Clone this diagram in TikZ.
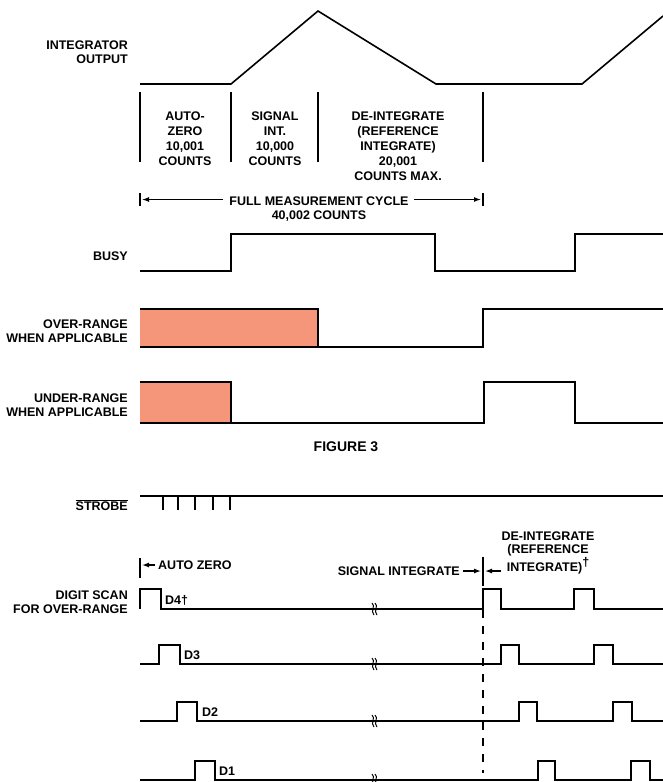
\documentclass[tikz,border=0pt]{standalone}
\usepackage{fontspec}
\setmainfont{Liberation Sans}
\usetikzlibrary{arrows.meta}
\definecolor{rangefill}{RGB}{245,150,122}

\tikzset{
  sig/.style={line width=1.6pt},
  bar/.style={line width=2.3pt},
  arr/.style={line width=1.3pt, -{Latex[length=7pt,width=5pt]}},
  lbl/.style={font=\bfseries\fontsize{12.5}{14}\selectfont, align=right, anchor=east, inner sep=0pt},
  colt/.style={font=\bfseries\fontsize{12.5}{15}\selectfont, align=center, inner sep=0pt},
  txt/.style={font=\bfseries\fontsize{12.5}{12.5}\selectfont, inner sep=0pt},
}

\begin{document}
\begin{tikzpicture}[x=1pt, y=-1pt]
  \useasboundingbox (0,0) rectangle (663,782);

  % integrator output and phases
  \node[lbl] (intlbl) at (128,52.5) {INTEGRATOR\\OUTPUT};
  \draw[sig] (140,84) -- (231,84) -- (318,11) -- (436,84) -- (582,84) -- (663,16);
  \foreach \x in {140,231,318,483}
    \draw[bar] (\x,92) -- (\x,162);
  \node[colt] (az) at (185,139) {AUTO-\\ZERO\\10,001\\COUNTS};
  \node[colt] (si) at (275,139) {SIGNAL\\INT.\\10,000\\COUNTS};
  \node[colt] (di) at (398,146.5) {DE-INTEGRATE\\(REFERENCE\\INTEGRATE)\\20,001\\COUNTS MAX.};

  % full cycle
  \node[txt] (fmc) at (319,201) {FULL MEASUREMENT CYCLE};
  \node[txt] (fmcn) at (319,216) {40,002 COUNTS};
  \coordinate (fmcL) at (142,199.5);
  \coordinate (fmcR) at (481,199.5);
  \draw[bar] (140,193) -- (140,206);
  \draw[bar] (483,193) -- (483,206);
  \draw[arr] ([xshift=-6pt]fmc.west|-fmcL) -- (fmcL);
  \draw[arr] ([xshift=5pt]fmc.east|-fmcR) -- (fmcR);

  % busy
  \node[lbl] (busy) at (128,256) {BUSY};
  \draw[sig] (140,271) -- (231,271) -- (231,234) -- (435,234) -- (435,271)
    -- (575,271) -- (575,234) -- (663,234);

  % over-range
  \node[lbl] (over) at (128,331.5) {OVER-RANGE\\WHEN APPLICABLE};
  \fill[rangefill] (140,309) rectangle (318,347);
  \draw[sig] (140,309) -- (318,309) -- (318,347);
  \draw[sig] (140,347) -- (483,347) -- (483,309) -- (663,309);

  % under-range
  \node[lbl] (under) at (128,405) {UNDER-RANGE\\WHEN APPLICABLE};
  \fill[rangefill] (140,382) rectangle (231,423);
  \draw[sig] (140,382) -- (231,382) -- (231,423);
  \draw[sig] (140,423) -- (484,423) -- (484,382) -- (575,382) -- (575,423) -- (663,423);

  \node[txt, font=\bfseries\fontsize{14}{14}\selectfont] (fig) at (346,447) {FIGURE 3};

  % strobe
  \node[lbl] (strobe) at (128,505) {$\overline{\hbox{STROBE}}$};
  \draw[sig] (140,496) -- (663,496);
  \foreach \x in {163,178,195,213,230}
    \draw[line width=2.8pt] (\x,496) -- (\x,510);

  % digit scan
  \node[lbl] (scan) at (128,602.5) {DIGIT SCAN\\FOR OVER-RANGE};
  \node[txt, anchor=west] (azb) at (158,565) {AUTO ZERO};
  \coordinate (azL) at (142,565);
  \draw[line width=1.3pt] (140,558) -- (140,578);
  \draw[arr] ([xshift=-3pt]azb.west) -- (azL);
  \node[txt, anchor=east] (sib) at (460,571) {SIGNAL INTEGRATE};
  \coordinate (siR) at (481,571);
  \draw[arr] ([xshift=3pt]sib.east) -- (siR);
  \node[txt, align=center] (dib) at (548,553) {DE-INTEGRATE\\(REFERENCE\\INTEGRATE)\raisebox{5pt}{†}};
  \coordinate (diL) at (485,571);
  \draw[arr] (501,571) -- (diL);
  \draw[line width=1.3pt] (483,557) -- (483,578);
  \draw[sig, dashed, dash pattern=on 8pt off 8pt] (483,578) -- (483,773);

  \draw[sig] (140,609) -- (140,589) -- (161,589) -- (161,609) -- (483,609) -- (483,589)
    -- (501,589) -- (501,609) -- (574,609) -- (574,589) -- (594,589) -- (594,609) -- (663,609);
  \draw[sig] (140,664) -- (159,664) -- (159,645) -- (180,645) -- (180,664) -- (501,664)
    -- (501,645) -- (519,645) -- (519,664) -- (594,664) -- (594,645) -- (613,645) -- (613,664) -- (663,664);
  \draw[sig] (140,721) -- (177,721) -- (177,702) -- (197,702) -- (197,721) -- (519,721)
    -- (519,702) -- (537,702) -- (537,721) -- (613,721) -- (613,702) -- (632,702) -- (632,721) -- (663,721);
  \draw[sig] (140,780) -- (195,780) -- (195,761) -- (215,761) -- (215,780) -- (538,780)
    -- (538,761) -- (555,761) -- (555,780) -- (631,780) -- (631,761) -- (650,761) -- (650,780) -- (663,780);
  \node[txt, anchor=west] (d4) at (165,600) {D4†};
  \node[txt, anchor=west] (d3) at (184,655) {D3};
  \node[txt, anchor=west] (d2) at (202,712) {D2};
  \node[txt, anchor=west] (d1) at (219,771) {D1};

  % breaks in the time axis
  \foreach \y in {609,664,721,780}
    \foreach \dx in {0,3}
      \draw[line width=1pt] (372+\dx,\y-6) .. controls (376+\dx,\y-3) and (370+\dx,\y+2) .. (374+\dx,\y+6);
\end{tikzpicture}
\end{document}
